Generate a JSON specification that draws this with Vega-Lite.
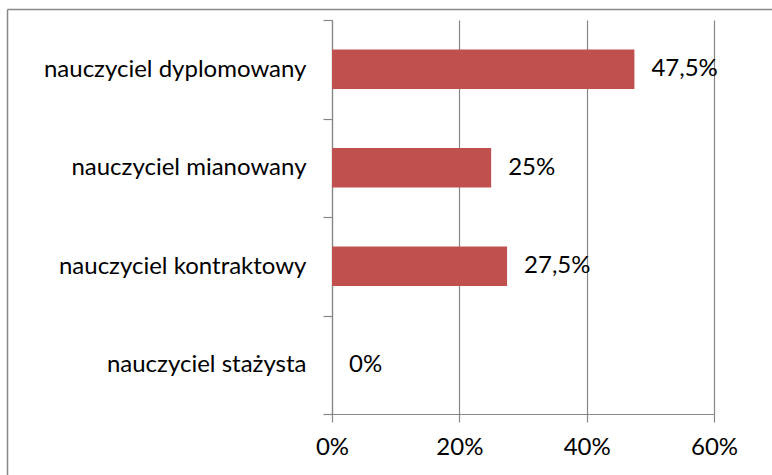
{
  "$schema": "https://vega.github.io/schema/vega-lite/v6.json",
  "width": 382,
  "height": 394,
  "autosize": {"type": "none"},
  "padding": {"left": 332, "top": 20, "right": 58, "bottom": 61},
  "background": "white",
  "config": {
    "locale": {"number": {"decimal": ",", "thousands": " ", "grouping": [3], "currency": ["", " zł"]}},
    "view": {"stroke": null},
    "font": "Lato"
  },
  "data": {
    "values": [
      {"stopien": "nauczyciel dyplomowany", "odsetek": 0.475},
      {"stopien": "nauczyciel mianowany", "odsetek": 0.25},
      {"stopien": "nauczyciel kontraktowy", "odsetek": 0.275},
      {"stopien": "nauczyciel stażysta", "odsetek": 0}
    ]
  },
  "layer": [
    {
      "encoding": {
        "y": {
          "field": "stopien",
          "type": "nominal",
          "sort": null,
          "scale": {"paddingInner": 0, "paddingOuter": 0},
          "axis": {
            "title": null,
            "tickBand": "extent",
            "tickExtra": true,
            "tickSize": 9,
            "tickColor": "#868686",
            "tickWidth": 1.2,
            "domainColor": "#868686",
            "domainWidth": 1.2,
            "labelFontSize": 24,
            "labelColor": "#000000",
            "labelPadding": 17,
            "labelLimit": 500,
            "grid": false
          }
        },
        "x": {
          "field": "odsetek",
          "type": "quantitative",
          "scale": {"domain": [0, 0.6], "nice": false},
          "axis": {
            "title": null,
            "values": [0, 0.2, 0.4, 0.6],
            "format": ".0%",
            "tickSize": 8,
            "tickColor": "#868686",
            "tickWidth": 1.2,
            "domainColor": "#868686",
            "domainWidth": 1.2,
            "grid": true,
            "gridColor": "#868686",
            "gridWidth": 1.2,
            "labelFontSize": 24,
            "labelColor": "#000000",
            "labelPadding": 13,
            "labelFlush": false,
            "labelAlign": "center"
          }
        }
      },
      "layer": [
        {"mark": {"type": "bar", "color": "#C0504D", "height": {"band": 0.4}}},
        {
          "mark": {"type": "text", "align": "left", "baseline": "middle", "dx": 17, "fontSize": 24, "color": "#000000"},
          "encoding": {"text": {"field": "odsetek", "format": ".1~%"}}
        }
      ]
    },
    {
      "mark": {"type": "point", "opacity": 0},
      "encoding": {
        "x": {
          "field": "odsetek",
          "type": "quantitative",
          "scale": {"domain": [0, 0.6], "range": [-325, 440], "nice": false},
          "axis": {"title": null, "orient": "top", "offset": 11, "labels": false, "ticks": false, "grid": false, "domainColor": "#888888", "domainWidth": 1.5}
        },
        "y": {
          "field": "stopien",
          "type": "nominal",
          "sort": null,
          "scale": {"range": [-11, 455]},
          "axis": {"title": null, "orient": "right", "offset": -707, "labels": false, "ticks": false, "grid": false, "domainColor": "#888888", "domainWidth": 1.5}
        }
      }
    }
  ],
  "resolve": {"scale": {"x": "independent", "y": "independent"}}
}
